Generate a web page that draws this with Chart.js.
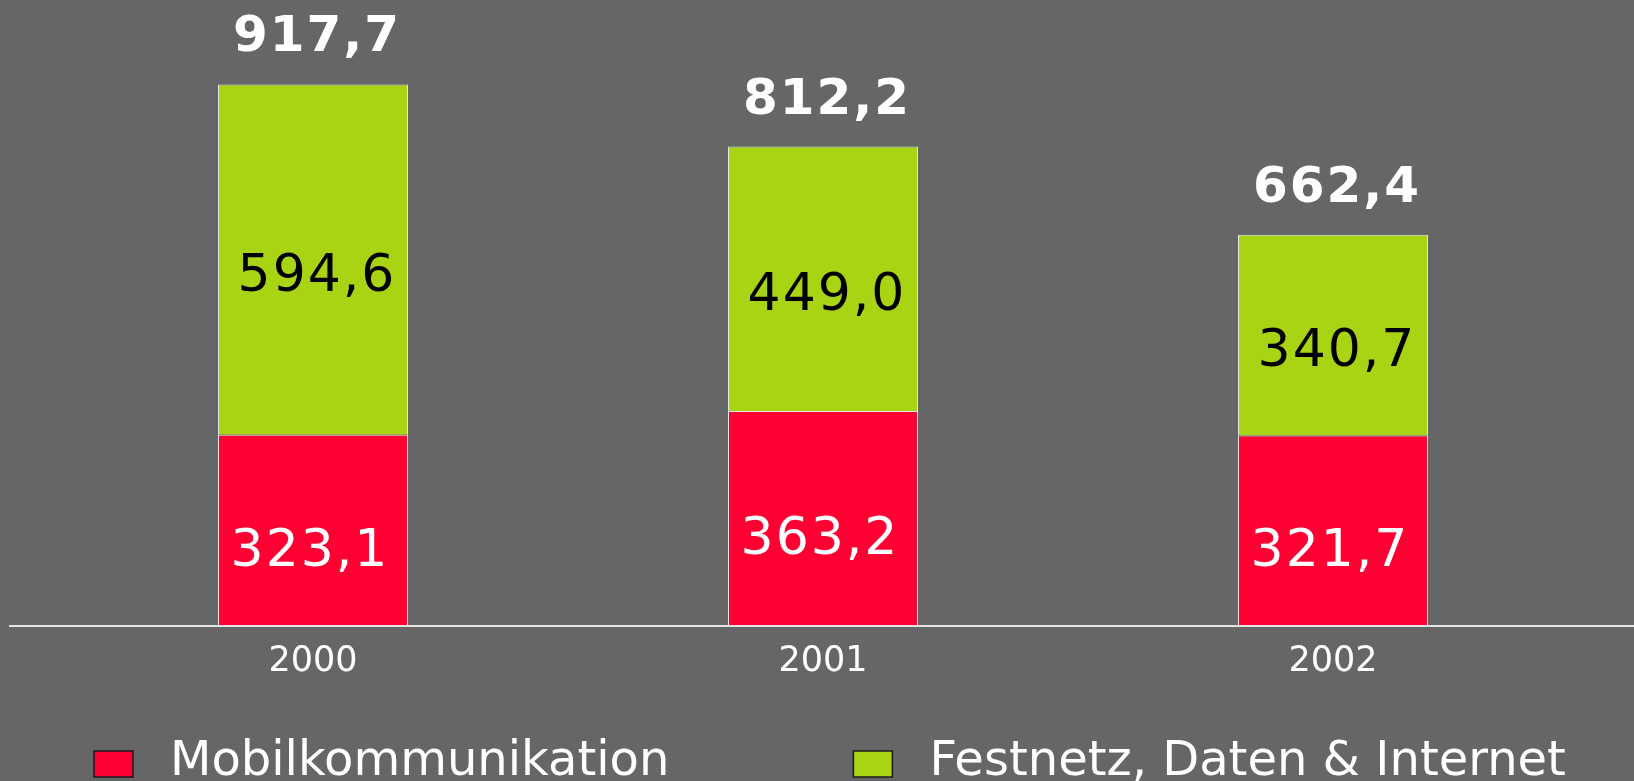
<!DOCTYPE html>
<html>
<head>
<meta charset="utf-8">
<script src="https://cdn.jsdelivr.net/npm/chart.js@4/dist/chart.umd.min.js"></script>
<style>
  html, body { margin: 0; padding: 0; background: #666666; }
  #wrap { width: 1634px; height: 781px; position: relative; }
</style>
</head>
<body>
<div id="wrap"><canvas id="umsatzChart"></canvas></div>
<script>
// data
const years = ['2000', '2001', '2002'];
const mobile = [323.1, 363.2, 321.7];
const fixedNet = [594.6, 449.0, 340.7];
const totals = [917.7, 812.2, 662.4];
const seriesNames = ['Mobilkommunikation', 'Festnetz, Daten & Internet'];

const RED = '#ff0033';
const GREEN = '#a8d414';

function fmt(v) {
  return v.toFixed(1).replace('.', ',');
}

// value labels inside and on top of the stacks
const valueLabels = {
  id: 'valueLabels',
  afterDatasetsDraw(chart) {
    const ctx = chart.ctx;
    const red = chart.getDatasetMeta(0).data;
    const green = chart.getDatasetMeta(1).data;
    ctx.save();
    ctx.textAlign = 'center';
    ctx.textBaseline = 'alphabetic';
    ctx.letterSpacing = '2px';
    years.forEach((y, i) => {
      const r = red[i], g = green[i];
      ctx.font = '52px "DejaVu Sans"';
      ctx.fillStyle = '#ffffff';
      ctx.fillText(fmt(mobile[i]), r.x - 3, (r.y + r.base) / 2 + 36);
      ctx.fillStyle = '#000000';
      ctx.fillText(fmt(fixedNet[i]), g.x + 4, (g.y + g.base) / 2 + 31);
      ctx.font = 'bold 50px "DejaVu Sans"';
      ctx.fillStyle = '#ffffff';
      ctx.fillText(fmt(totals[i]), g.x + 4, g.y - 33);
    });
    ctx.restore();
  }
};

// base line across the whole slide + legend at the bottom
const slideDecor = {
  id: 'slideDecor',
  afterDraw(chart) {
    const ctx = chart.ctx;
    const area = chart.chartArea;
    ctx.save();
    ctx.strokeStyle = '#e4e4e4';
    ctx.lineWidth = 2;
    ctx.beginPath();
    ctx.moveTo(9, area.bottom + 1);
    ctx.lineTo(chart.width, area.bottom + 1);
    ctx.stroke();

    ctx.font = '48px "DejaVu Sans"';
    ctx.textBaseline = 'alphabetic';
    let x = 94;
    chart.data.datasets.forEach(ds => {
      ctx.fillStyle = ds.backgroundColor;
      ctx.fillRect(x, 751, 39, 26);
      ctx.strokeStyle = '#1a1a1a';
      ctx.lineWidth = 1.5;
      ctx.strokeRect(x, 751, 39, 26);
      ctx.fillStyle = '#ffffff';
      ctx.fillText(ds.label, x + 76, 775);
      x += 76 + ctx.measureText(ds.label).width + 184;
    });
    ctx.restore();
  }
};

new Chart(document.getElementById('umsatzChart'), {
  type: 'bar',
  data: {
    labels: years,
    datasets: [
      {
        label: seriesNames[0],
        data: mobile,
        backgroundColor: RED,
        borderColor: '#e6e6e6',
        borderWidth: 1
      },
      {
        label: seriesNames[1],
        data: fixedNet,
        backgroundColor: GREEN,
        borderColor: '#e6e6e6',
        borderWidth: 1
      }
    ]
  },
  options: {
    responsive: true,
    maintainAspectRatio: false,
    animation: false,
    layout: {
      padding: { left: 58, right: 46, top: 0, bottom: 96 }
    },
    datasets: {
      bar: { categoryPercentage: 1, barPercentage: 190 / 510 }
    },
    plugins: {
      legend: { display: false },
      tooltip: { enabled: false }
    },
    scales: {
      x: {
        stacked: true,
        grid: { display: false, drawTicks: false },
        border: { display: false },
        ticks: {
          color: '#ffffff',
          padding: 16,
          font: { family: 'DejaVu Sans', size: 35 }
        },
        afterFit(scale) { scale.height = 60; }
      },
      y: {
        stacked: true,
        display: false,
        min: 0,
        max: 1061
      }
    }
  },
  plugins: [valueLabels, slideDecor]
});
</script>
</body>
</html>
